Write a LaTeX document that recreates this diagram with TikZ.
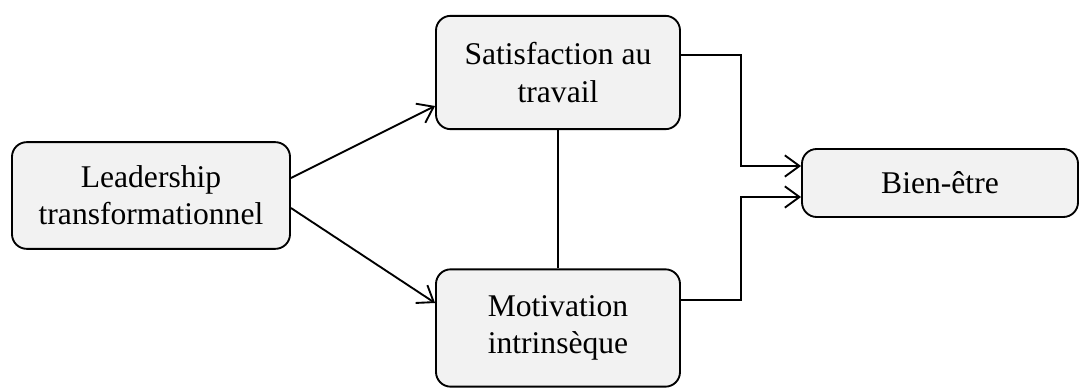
\documentclass[tikz,border=0pt]{standalone}
\usepackage{fontspec}
\setmainfont{Liberation Serif}
\usetikzlibrary{arrows.meta,calc}

\tikzset{
  box/.style={draw, line width=1.4pt, rounded corners=11pt, fill={rgb,255:red,242;green,242;blue,242},
    align=center, inner sep=0pt, font=\fontsize{23.7}{27.8}\selectfont},
  link/.style={line width=1.4pt},
  arrowlink/.style={link, -{Straight Barb[length=11pt,width=16pt,line width=1.4pt]}}
}

\begin{document}
\begin{tikzpicture}[x=0.75pt,y=0.75pt,yscale=-1,xscale=1]
		\useasboundingbox (0,0) rectangle (1081,392);
		
		%Boxes
		\node [box, minimum width=208.5pt, minimum height=80pt] (lead) at (151,195.5) {Leadership\\transformationnel};
		\node [box, minimum width=183pt, minimum height=85pt] (satis) at (558,72.5) {Satisfaction au\\travail};
		\node [box, minimum width=183pt, minimum height=88pt] (motiv) at (558,328) {Motivation\\intrinsèque};
		\node [box, minimum width=207pt, minimum height=51pt] (bien) at (940,183) {Bien-être};
		
		%Corners of the elbow connectors
		\coordinate (sa) at (741,55);
		\coordinate (sb) at (741,166);
		\coordinate (ma) at (741,300);
		\coordinate (mb) at (741,197);
		
		%Straight Lines
		\draw [arrowlink] ($(lead.east)+(0,-17.5)$) -- ($(satis.west)+(0,33.5)$);
		\draw [arrowlink] ($(lead.east)+(0,12.5)$) -- ($(motiv.west)+(0,-25)$);
		\draw [link] (satis.south) -- (motiv.north);
		
		%Elbow lines
		\draw [arrowlink] (satis.east |- sa) -- (sa) -- (sb) -- (bien.west |- sb);
		\draw [arrowlink] (motiv.east |- ma) -- (ma) -- (mb) -- (bien.west |- mb);
		
\end{tikzpicture}
\end{document}
